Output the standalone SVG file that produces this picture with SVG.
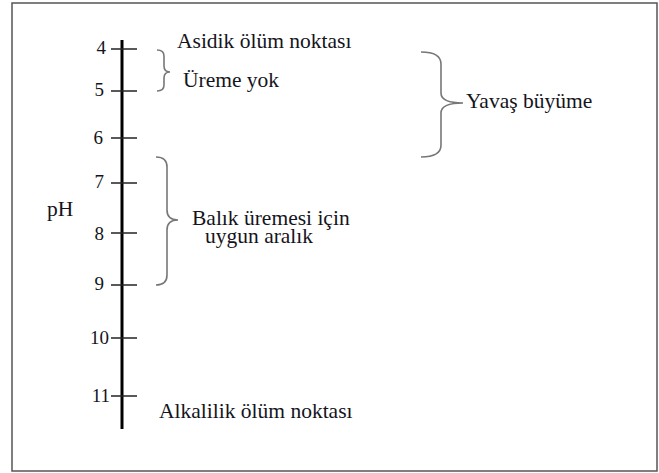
<svg xmlns="http://www.w3.org/2000/svg" width="659" height="473" viewBox="0 0 659 473">
  <style>
    .frame { fill: #ffffff; stroke: #555555; stroke-width: 1.5; }
    .axis { stroke: #000000; stroke-width: 3; fill: none; }
    .tick { stroke: #222222; stroke-width: 1.5; }
    .brace { fill: none; stroke: #777777; stroke-width: 1.6; }
    text { font-family: "Liberation Serif", "Times New Roman", "DejaVu Serif", serif; font-size: 21.5px; fill: #141420; }
    .num { text-anchor: end; font-size: 19px; }
  </style>

  <rect class="frame" x="12" y="3" width="645" height="468"/>

  <!-- pH scale -->
  <g id="scale">
    <line class="axis" x1="122" y1="40" x2="122" y2="429"/>
    <line class="tick" x1="111" y1="49" x2="137" y2="49"/>
    <line class="tick" x1="111" y1="91" x2="137" y2="91"/>
    <line class="tick" x1="111" y1="138" x2="137" y2="138"/>
    <line class="tick" x1="111" y1="183" x2="137" y2="183"/>
    <line class="tick" x1="111" y1="233" x2="137" y2="233"/>
    <line class="tick" x1="111" y1="285" x2="137" y2="285"/>
    <line class="tick" x1="111" y1="338" x2="137" y2="338"/>
    <line class="tick" x1="111" y1="396" x2="137" y2="396"/>
    <text class="num" x="106" y="54">4</text>
    <text class="num" x="104" y="96">5</text>
    <text class="num" x="103" y="144">6</text>
    <text class="num" x="104" y="188">7</text>
    <text class="num" x="104" y="240">8</text>
    <text class="num" x="104" y="290">9</text>
    <text class="num" x="109" y="344">10</text>
    <text class="num" x="110" y="402">11</text>
    <text x="47" y="216">pH</text>
  </g>

  <!-- end points -->
  <g id="acid-death">
    <text x="177" y="48">Asidik ölüm noktası</text>
  </g>
  <g id="alkaline-death">
    <text x="159" y="418">Alkalilik ölüm noktası</text>
  </g>

  <!-- ranges -->
  <g id="no-breeding">
    <path class="brace" d="M157 50 Q164 50 164 56 L164 66 Q164 72 170 72 Q164 72 164 78 L164 85 Q164 91 157 91"/>
    <text x="183" y="87">Üreme yok</text>
  </g>
  <g id="slow-growth">
    <path class="brace" d="M421 52 Q441 52 441 64 L441 93 Q441 103 463 103 Q441 103 441 113 L441 145 Q441 157 421 157"/>
    <text x="466" y="108">Yavaş büyüme</text>
  </g>
  <g id="breeding-range">
    <path class="brace" d="M156 157 Q167 157 167 167 L167 210 Q167 220 178 220 Q167 220 167 230 L167 275 Q167 285 156 285"/>
    <text x="192" y="225">Balık üremesi için</text>
    <text x="205" y="243">uygun aralık</text>
  </g>
</svg>
